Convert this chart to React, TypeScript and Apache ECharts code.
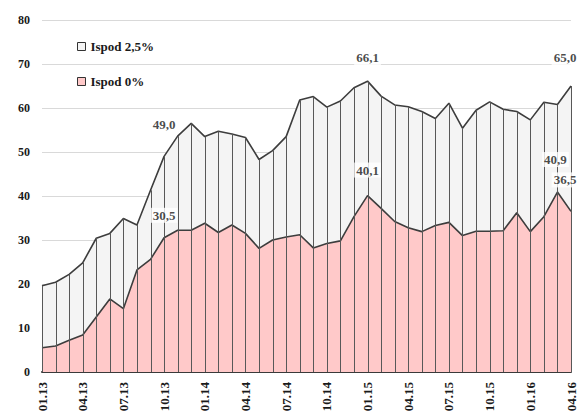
import React, { useEffect, useRef } from "react";
import * as echarts from "echarts";

const categories = [
  "01.13", "02.13", "03.13", "04.13", "05.13", "06.13", "07.13", "08.13", "09.13", "10.13", "11.13", "12.13",
  "01.14", "02.14", "03.14", "04.14", "05.14", "06.14", "07.14", "08.14", "09.14", "10.14", "11.14", "12.14",
  "01.15", "02.15", "03.15", "04.15", "05.15", "06.15", "07.15", "08.15", "09.15", "10.15", "11.15", "12.15",
  "01.16", "02.16", "03.16", "04.16",
];

const below25 = [
  19.6, 20.4, 22.2, 24.8, 30.4, 31.5, 34.9, 33.4, 41.3, 49.0,
  53.6, 56.5, 53.5, 54.7, 54.1, 53.3, 48.3, 50.3, 53.5, 61.8,
  62.6, 60.2, 61.6, 64.6, 66.1, 62.7, 60.7, 60.3, 59.2, 57.6,
  61.1, 55.4, 59.5, 61.4, 59.7, 59.2, 57.3, 61.3, 60.8, 65.0,
];

const below0 = [
  5.5, 5.9, 7.2, 8.4, 12.5, 16.6, 14.4, 23.2, 25.6, 30.5,
  32.2, 32.2, 33.8, 31.7, 33.4, 31.5, 28.1, 30.0, 30.7, 31.2,
  28.2, 29.2, 29.8, 35.3, 40.1, 37.2, 34.2, 32.8, 31.9, 33.3,
  34.0, 31.0, 32.0, 32.0, 32.1, 36.2, 31.9, 35.3, 40.9, 36.5,
];

const yTicks = [0, 10, 20, 30, 40, 50, 60, 70, 80];

const seriesNames = ["Ispod 2,5%", "Ispod 0%"];

// indices of labelled points
const labelled25 = [9, 24, 39];
const labelled0 = [9, 24, 38, 39];

// styling: how far above the point each label's centre sits (px)
const lift25 = [32, 24, 29];
const lift0 = [23, 26, 33, 32];
const shift25 = [0, 0, -6];
const shift0 = [0, 0, -2, -6];

const FONT = "'Liberation Serif', Tinos, 'Times New Roman', Times, serif";

const fmt = (v: number) => v.toFixed(1).replace(".", ",");

export default function App() {
  const ref = useRef<HTMLDivElement>(null);

  useEffect(() => {
    document.body.style.margin = "0";
    if (!ref.current) return;
    const chart = echarts.init(ref.current, undefined, { renderer: "svg" });

    const labelData = [
      ...labelled25.map((idx, k) => ({
        value: [idx, below25[idx]],
        label: { distance: lift25[k] - 8, offset: [shift25[k], 0] },
      })),
      ...labelled0.map((idx, k) => ({
        value: [idx, below0[idx]],
        label: { distance: lift0[k] - 8, offset: [shift0[k], 0] },
      })),
    ];

    chart.setOption({
      animation: false,
      backgroundColor: "#ffffff",
      grid: { left: 42, right: 15, top: 20, bottom: 47, containLabel: false },
      legend: {
        orient: "vertical",
        left: 72,
        top: 35,
        itemWidth: 8,
        itemHeight: 8,
        itemGap: 22,
        icon: "rect",
        textStyle: { fontFamily: FONT, fontWeight: "bold", fontSize: 13, color: "#1a1a1a" },
        data: [
          { name: seriesNames[0], itemStyle: { color: "#f4f4f4", borderColor: "#333", borderWidth: 1 } },
          { name: seriesNames[1], itemStyle: { color: "#ffc9c9", borderColor: "#333", borderWidth: 1 } },
        ],
      },
      xAxis: {
        type: "category",
        data: categories,
        boundaryGap: false,
        axisLine: { show: true, lineStyle: { color: "#3a3a3a", width: 2 } },
        axisTick: { show: false },
        splitLine: { show: false },
        axisLabel: {
          interval: 2,
          rotate: 90,
          margin: 10,
          fontFamily: FONT,
          fontWeight: "bold",
          fontSize: 13,
          color: "#1a1a1a",
        },
      },
      yAxis: {
        type: "value",
        min: yTicks[0],
        max: yTicks[yTicks.length - 1],
        interval: 10,
        axisLine: { show: false },
        axisTick: { show: false },
        splitLine: { show: true, lineStyle: { color: "#d9d9d9", width: 1 } },
        axisLabel: {
          margin: 12,
          fontFamily: FONT,
          fontWeight: "bold",
          fontSize: 12,
          color: "#1a1a1a",
        },
      },
      series: [
        {
          name: seriesNames[0],
          type: "line",
          data: below25,
          symbol: "none",
          z: 1,
          lineStyle: { color: "#3d3d3d", width: 1.6 },
          areaStyle: { color: "#f4f4f4", opacity: 1 },
          itemStyle: { color: "#f4f4f4" },
        },
        {
          name: seriesNames[1],
          type: "line",
          data: below0,
          symbol: "none",
          z: 2,
          lineStyle: { color: "#3d3d3d", width: 1.6 },
          areaStyle: { color: "#ffc9c9", opacity: 1 },
          itemStyle: { color: "#ffc9c9" },
        },
        {
          type: "custom",
          name: "droplines",
          z: 3,
          silent: true,
          data: below25.map((v, i) => [i, v]),
          renderItem: (params: any, api: any) => {
            const top = api.coord([api.value(0), api.value(1)]);
            const bot = api.coord([api.value(0), 0]);
            const x = Math.round(top[0]) + 0.5;
            return {
              type: "line",
              shape: { x1: x, y1: top[1], x2: x, y2: bot[1] },
              style: { stroke: "#585858", lineWidth: 1 },
            };
          },
        },
        {
          type: "scatter",
          name: "labels",
          z: 10,
          silent: true,
          symbolSize: 0,
          itemStyle: { color: "rgba(0,0,0,0)" },
          data: labelData,
          label: {
            show: true,
            position: "top",
            formatter: (p: any) => fmt(p.value[1]),
            fontFamily: FONT,
            fontWeight: "bold",
            fontSize: 13,
            color: "#1a1a1a",
            backgroundColor: "#ffffff",
            padding: [1, 2],
          },
        },
      ],
    });

    return () => chart.dispose();
  }, []);

  return <div ref={ref} style={{ width: 586, height: 419 }} />;
}
